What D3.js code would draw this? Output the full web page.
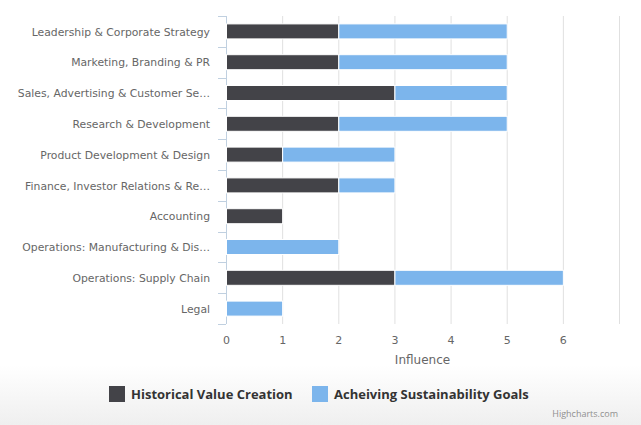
<!DOCTYPE html>
<html><head><meta charset="utf-8">
<script src="https://cdn.jsdelivr.net/npm/d3@7"></script>
<style>
html,body{margin:0;padding:0;background:#fff;}
svg{display:block;font-family:"Lucida Grande","Open Sans",Arial,sans-serif;}
.lab{font-family:"Lucida Grande","DejaVu Sans",sans-serif;}
</style></head>
<body><svg id="c" width="641" height="425"></svg>
<script>
const categories = ["Leadership & Corporate Strategy","Marketing, Branding & PR","Sales, Advertising & Customer Se…","Research & Development","Product Development & Design","Finance, Investor Relations & Re…","Accounting","Operations: Manufacturing & Dis…","Operations: Supply Chain","Legal"];
const seriesNames = ["Historical Value Creation","Acheiving Sustainability Goals"];
const historical = [2,2,3,2,1,2,1,0,3,0];
const sustainability = [3,3,2,3,2,1,0,2,3,1];
const xTicks = [0,1,2,3,4,5,6];
const colors = ["#434348","#7cb5ec"];

(function(){
const svg = d3.select("#c");
const defs = svg.append("defs");
const g0 = defs.append("linearGradient").attr("id","bg").attr("x1",0).attr("y1",0).attr("x2",0).attr("y2",1);
g0.append("stop").attr("offset","0").attr("stop-color","#ffffff");
g0.append("stop").attr("offset","1").attr("stop-color","#efefef");
svg.append("rect").attr("x",0).attr("y",0).attr("width",641).attr("height",425).attr("fill","#fff");
svg.append("rect").attr("x",0).attr("y",365).attr("width",641).attr("height",60).attr("fill","url(#bg)");

const pL=226, pR=619, pT=16, pB=324;
const x = d3.scaleLinear().domain([0,7]).range([pL,pR]);
const y = d3.scaleBand().domain(categories).range([pT,pB]);

svg.append("g").selectAll("line").data([0,1,2,3,4,5,6,7]).join("line")
  .attr("x1",d=>x(d)+0.5).attr("x2",d=>x(d)+0.5).attr("y1",pT).attr("y2",pB)
  .attr("stroke","#e0e0e0").attr("stroke-width",1);

const yAxis = d3.axisLeft(y).tickSize(0).tickPadding(16);
const ya = svg.append("g").attr("transform",`translate(${pL},0.7)`).call(yAxis);
ya.select(".domain").remove();
ya.selectAll("text").attr("class","lab").attr("fill","#666").attr("font-size","10.8px");
svg.append("line").attr("x1",pL+0.5).attr("x2",pL+0.5).attr("y1",pT).attr("y2",pB).attr("stroke","#c0d0e0");
const bounds = categories.map(c=>y(c)).concat([pB]);
svg.append("g").selectAll("line").data(bounds).join("line")
  .attr("x1",pL-8).attr("x2",pL).attr("y1",d=>Math.round(d)+0.5).attr("y2",d=>Math.round(d)+0.5)
  .attr("stroke","#c0d0e0");

const stacked = d3.stack().keys([0,1]).value((d,k)=>k===0?historical[d]:sustainability[d])(d3.range(categories.length));
const bh = 15;
stacked.forEach((s,si)=>{
  svg.append("g").selectAll("rect").data(s.map((v,i)=>({v,i})).filter(d=>d.v[1]-d.v[0]>0)).join("rect")
    .attr("x",d=>x(d.v[0])+0.5).attr("width",d=>x(d.v[1])-x(d.v[0]))
    .attr("y",d=>y(categories[d.i])+y.bandwidth()/2-bh/2).attr("height",bh)
    .attr("fill",colors[si]).attr("stroke","#fff").attr("stroke-width",1);
});

const xAxis = d3.axisBottom(x).tickValues(xTicks).tickSize(0).tickPadding(12).tickFormat(d3.format("d"));
const xa = svg.append("g").attr("transform",`translate(0,${pB})`).call(xAxis);
xa.select(".domain").remove();
xa.selectAll("text").attr("class","lab").attr("fill","#666").attr("font-size","11px");
svg.append("text").attr("class","lab").attr("x",(pL+pR)/2).attr("y",364).attr("text-anchor","middle")
  .attr("fill","#666").attr("font-size","12px").text("Influence");

const leg = [{x:109,name:seriesNames[0]},{x:312,name:seriesNames[1]}];
leg.forEach((l,i)=>{
  svg.append("rect").attr("x",l.x).attr("y",386).attr("width",16).attr("height",16).attr("fill",colors[i]);
  svg.append("text").attr("x",l.x+22).attr("y",399).attr("fill","#333").attr("font-size","13px").attr("font-weight","bold").text(l.name);
});
svg.append("text").attr("x",618).attr("y",417).attr("text-anchor","end").attr("fill","#909090").attr("font-size","9px").text("Highcharts.com");
})();
</script></body></html>
